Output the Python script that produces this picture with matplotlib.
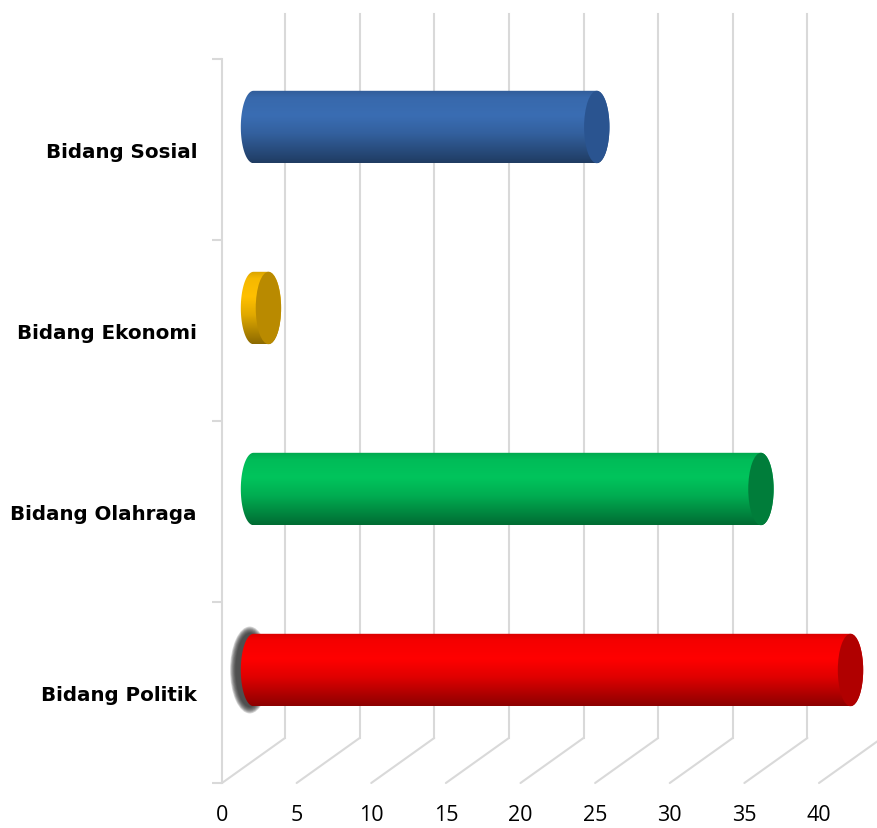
import numpy as np
import matplotlib
matplotlib.use("Agg")
import matplotlib.pyplot as plt
from matplotlib import transforms
from matplotlib.patches import Ellipse, PathPatch, ConnectionPatch
from matplotlib.path import Path
from matplotlib.colors import to_rgb

# data (bottom to top)
categories = ["Bidang Politik", "Bidang Olahraga", "Bidang Ekonomi", "Bidang Sosial"]
values = [40, 34, 1, 23]
colors = ["#ff0000", "#00c45c", "#ffc000", "#3a6db3"]
cap_colors = ["#b00000", "#007d3a", "#b98a00", "#2a5490"]
xticks = [0, 5, 10, 15, 20, 25, 30, 35, 40]

grid_c = "#d9d9d9"

fig = plt.figure(figsize=(8.78, 8.29), dpi=100)
ax = fig.add_axes([222 / 878, 45 / 829, 597 / 878, 724 / 829])

# fake 3D depth: back wall and bar plane shifted in pixels
back = transforms.offset_copy(ax.transData, fig=fig, x=63, y=45, units="dots")
mid = transforms.offset_copy(ax.transData, fig=fig, x=31.5, y=22.5, units="dots")

# back wall gridlines + floor lines
for v in xticks:
    ax.plot([v, v], [-0.5, 3.5], transform=back, color=grid_c, lw=1.5,
            clip_on=False, zorder=0)
    con = ConnectionPatch(xyA=(v, -0.5), coordsA=ax.transData,
                          xyB=(v, -0.5), coordsB=back,
                          color=grid_c, lw=1.5, zorder=0)
    con.set_clip_on(False)
    ax.add_artist(con)

# cylinders
r = 0.2      # radius in category units
cw = 1.7     # width of the end ellipse in x units
shade_t = [0, 0.1, 0.35, 0.6, 1.0]
shade_f = [0.85, 0.96, 1.0, 0.88, 0.55]
a_right = np.linspace(np.pi / 2, -np.pi / 2, 60)
a_left = np.linspace(-np.pi / 2, -3 * np.pi / 2, 60)

for i, (v, c, cc) in enumerate(zip(values, colors, cap_colors)):
    if categories[i] == "Bidang Politik":
        # soft grey shadow around the selected bar's left end
        for k in range(8):
            ax.add_patch(Ellipse((-0.25, i), width=cw * (1.55 - k * 0.06),
                                 height=2 * r * (1.2 - k * 0.025),
                                 transform=mid, facecolor="#2e2e2e",
                                 edgecolor="none", alpha=0.2,
                                 clip_on=False, zorder=1))

    xs = np.concatenate([[0, v], v + cw / 2 * np.cos(a_right), [v, 0],
                         cw / 2 * np.cos(a_left)])
    ys = np.concatenate([[i + r, i + r], i + r * np.sin(a_right), [i - r, i - r],
                         i + r * np.sin(a_left)])
    outline = PathPatch(Path(np.column_stack([xs, ys])), transform=mid,
                        facecolor="none", edgecolor="none")

    rows = np.linspace(0, 1, 120)
    f = np.interp(rows, shade_t, shade_f)
    img = np.clip(np.array(to_rgb(c))[None, :] * f[:, None], 0, 1)[:, None, :]
    im = ax.imshow(img, extent=(-cw, v + cw, i - r, i + r), transform=mid,
                   aspect="auto", interpolation="bilinear", zorder=2)
    im.set_clip_path(outline)
    im.set_clip_box(fig.bbox)

    ax.add_patch(Ellipse((v, i), width=cw, height=2 * r, transform=mid,
                         facecolor=cc, edgecolor="none", clip_on=False, zorder=3))

ax.set_xlim(0, 40)
ax.set_ylim(-0.5, 3.5)
ax.set_facecolor("none")

for s in ["top", "right", "bottom"]:
    ax.spines[s].set_visible(False)
ax.spines["left"].set_color(grid_c)
ax.spines["left"].set_linewidth(1.5)

ax.set_xticks(xticks)
ax.set_xticklabels([str(t) for t in xticks], fontfamily="Open Sans", fontsize=15.5)
ax.tick_params(axis="x", length=0, pad=15)

ax.set_yticks(range(len(categories)))
ax.set_yticklabels(categories, fontfamily="DejaVu Sans", fontweight="bold", fontsize=14.3)
ax.set_yticks(np.arange(-0.5, 4, 1), minor=True)
ax.tick_params(axis="y", which="major", length=0, pad=18)
ax.tick_params(axis="y", which="minor", length=7, width=1.5, color=grid_c)

fig.savefig("out.png", dpi=100)
